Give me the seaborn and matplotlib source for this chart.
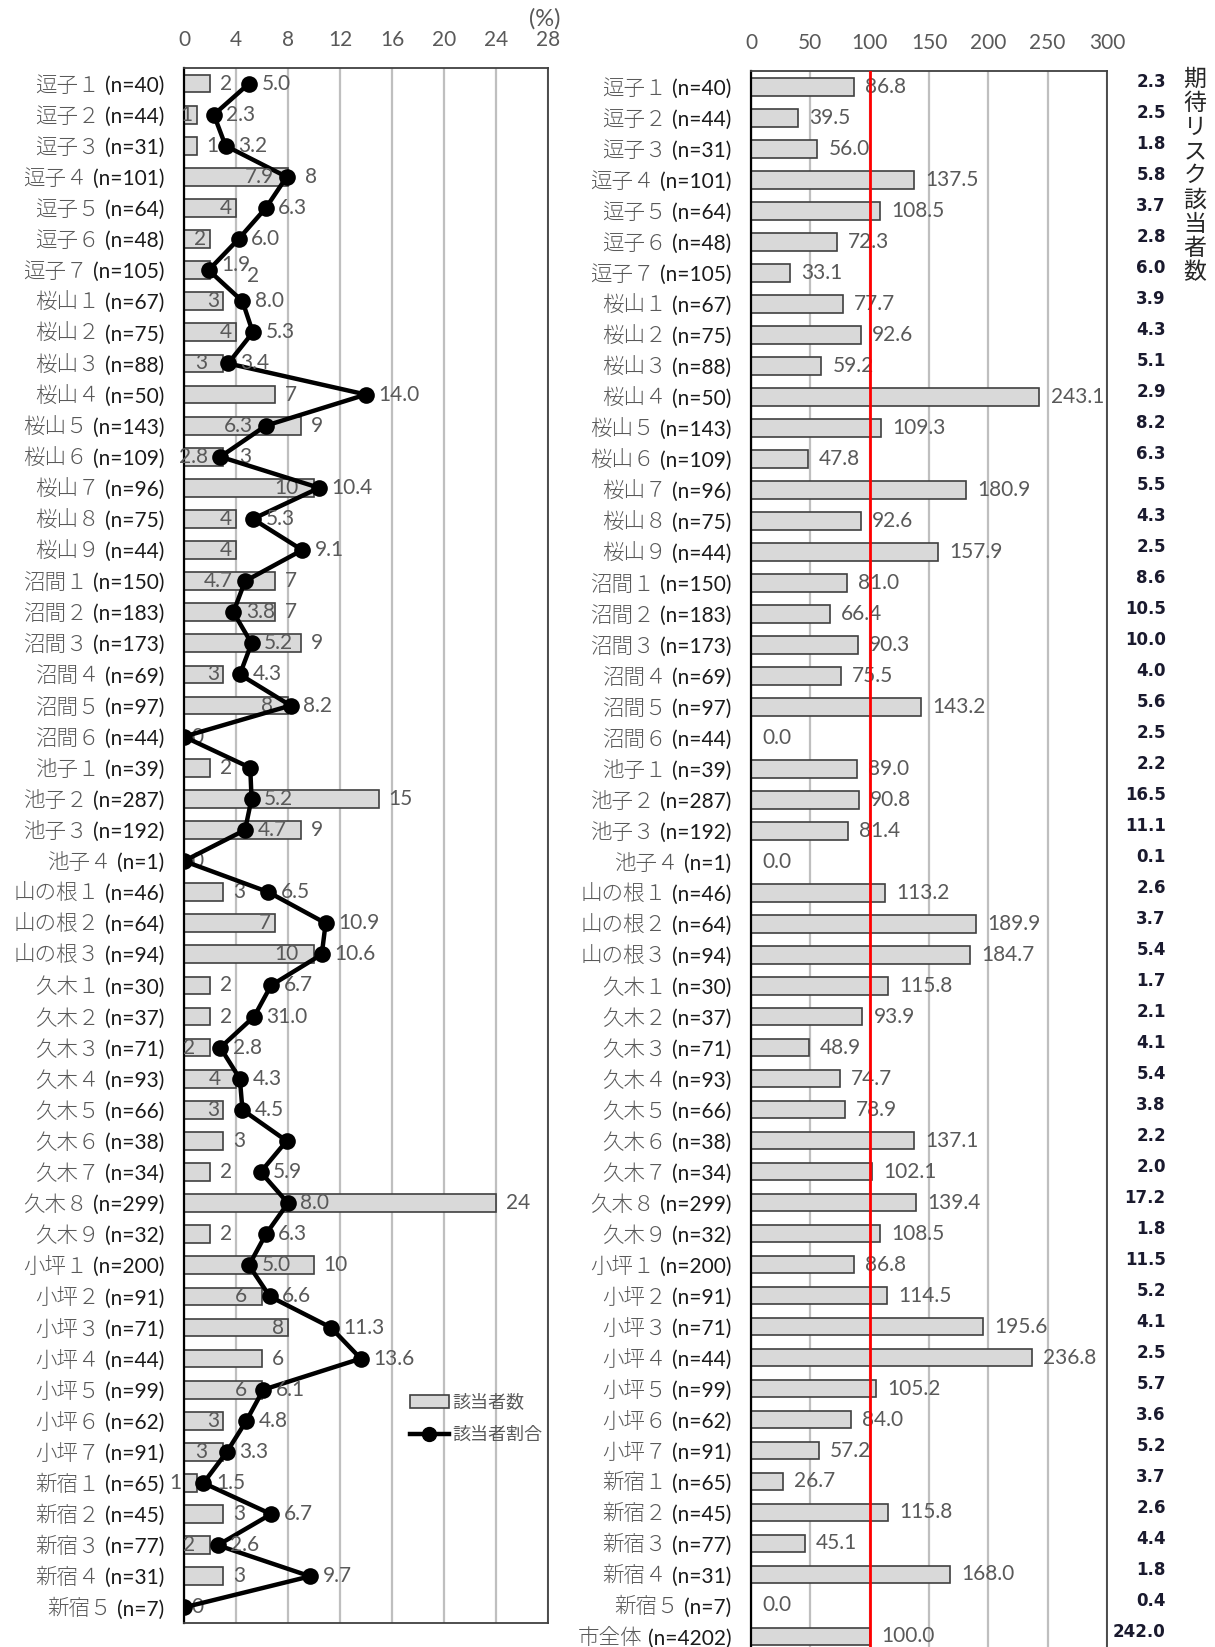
import matplotlib
matplotlib.use('Agg')
import matplotlib.pyplot as plt
import seaborn as sns
import pandas as pd
from matplotlib.patches import Patch
from matplotlib.lines import Line2D
from matplotlib.transforms import blended_transform_factory

# ---------------- data ----------------
names = ["逗子１", "逗子２", "逗子３", "逗子４", "逗子５", "逗子６", "逗子７",
         "桜山１", "桜山２", "桜山３", "桜山４", "桜山５", "桜山６", "桜山７", "桜山８", "桜山９",
         "沼間１", "沼間２", "沼間３", "沼間４", "沼間５", "沼間６",
         "池子１", "池子２", "池子３", "池子４",
         "山の根１", "山の根２", "山の根３",
         "久木１", "久木２", "久木３", "久木４", "久木５", "久木６", "久木７", "久木８", "久木９",
         "小坪１", "小坪２", "小坪３", "小坪４", "小坪５", "小坪６", "小坪７",
         "新宿１", "新宿２", "新宿３", "新宿４", "新宿５"]
sample_n = [40, 44, 31, 101, 64, 48, 105,
            67, 75, 88, 50, 143, 109, 96, 75, 44,
            150, 183, 173, 69, 97, 44,
            39, 287, 192, 1,
            46, 64, 94,
            30, 37, 71, 93, 66, 38, 34, 299, 32,
            200, 91, 71, 44, 99, 62, 91,
            65, 45, 77, 31, 7]
counts = [2, 1, 1, 8, 4, 2, 2,
          3, 4, 3, 7, 9, 3, 10, 4, 4,
          7, 7, 9, 3, 8, 0,
          2, 15, 9, 0,
          3, 7, 10,
          2, 2, 2, 4, 3, 3, 2, 24, 2,
          10, 6, 8, 6, 6, 3, 3,
          1, 3, 2, 3, 0]
rates = [5.0, 2.3, 3.2, 7.9, 6.3, 4.2, 1.9,
         4.5, 5.3, 3.4, 14.0, 6.3, 2.8, 10.4, 5.3, 9.1,
         4.7, 3.8, 5.2, 4.3, 8.2, 0.0,
         5.1, 5.2, 4.7, 0.0,
         6.5, 10.9, 10.6,
         6.7, 5.4, 2.8, 4.3, 4.5, 7.9, 5.9, 8.0, 6.3,
         5.0, 6.6, 11.3, 13.6, 6.1, 4.8, 3.3,
         1.5, 6.7, 2.6, 9.7, 0.0]
rate_labels = ["5.0", "2.3", "3.2", "7.9", "6.3", "6.0", "1.9",
               "8.0", "5.3", "3.4", "14.0", "6.3", "2.8", "10.4", "5.3", "9.1",
               "4.7", "3.8", "5.2", "4.3", "8.2", "",
               "", "5.2", "4.7", "",
               "6.5", "10.9", "10.6",
               "6.7", "31.0", "2.8", "4.3", "4.5", "", "5.9", "8.0", "6.3",
               "5.0", "6.6", "11.3", "13.6", "6.1", "4.8", "3.3",
               "1.5", "6.7", "2.6", "9.7", ""]

total_name = "市全体"
total_n = 4202
ratios = [86.8, 39.5, 56.0, 137.5, 108.5, 72.3, 33.1,
          77.7, 92.6, 59.2, 243.1, 109.3, 47.8, 180.9, 92.6, 157.9,
          81.0, 66.4, 90.3, 75.5, 143.2, 0.0,
          89.0, 90.8, 81.4, 0.0,
          113.2, 189.9, 184.7,
          115.8, 93.9, 48.9, 74.7, 78.9, 137.1, 102.1, 139.4, 108.5,
          86.8, 114.5, 195.6, 236.8, 105.2, 84.0, 57.2,
          26.7, 115.8, 45.1, 168.0, 0.0,
          100.0]
expected = [2.3, 2.5, 1.8, 5.8, 3.7, 2.8, 6.0,
            3.9, 4.3, 5.1, 2.9, 8.2, 6.3, 5.5, 4.3, 2.5,
            8.6, 10.5, 10.0, 4.0, 5.6, 2.5,
            2.2, 16.5, 11.1, 0.1,
            2.6, 3.7, 5.4,
            1.7, 2.1, 4.1, 5.4, 3.8, 2.2, 2.0, 17.2, 1.8,
            11.5, 5.2, 4.1, 2.5, 5.7, 3.6, 5.2,
            3.7, 2.6, 4.4, 1.8, 0.4,
            242.0]
x_ticks_left = [0, 4, 8, 12, 16, 20, 24, 28]
x_ticks_right = [0, 50, 100, 150, 200, 250, 300]
legend_labels = ["該当者数", "該当者割合"]
side_title = "期待リスク該当者数"

# ---------------- style ----------------
plt.rcParams['font.family'] = ['Lato', 'Noto Sans CJK JP', 'DejaVu Sans']
CJK = ['Noto Sans CJK JP', 'DejaVu Sans']
BAR_FACE = '#d9d9d9'
BAR_EDGE = '#404040'
LABEL_GRAY = '#595959'
GRID = '#bfbfbf'
DL_SIZE = 15

fig = plt.figure(figsize=(12.15, 16.47), dpi=100)
axL = fig.add_axes([0.1514, 0.0146, 0.2996, 0.9441])
axR = fig.add_axes([0.6181, -0.0030, 0.2930, 0.9596])

dfL = pd.DataFrame({
    'key': [f"{a} (n={n})" for a, n in zip(names, sample_n)],
    'count': counts,
    'rate': rates,
    'pos': list(range(len(names))),
})
names_R = names + [total_name]
n_R = sample_n + [total_n]
dfR = pd.DataFrame({
    'key': [f"{a} (n={n})" for a, n in zip(names_R, n_R)],
    'ratio': ratios,
})


def style_axes(ax, ticks, xmax, nrows, n_list, name_list):
    ax.set_xlim(0, xmax)
    ax.set_ylim(nrows - 0.5, -0.5)
    ax.set_xticks(ticks)
    ax.xaxis.tick_top()
    ax.tick_params(axis='x', length=0, pad=13, labelsize=15, labelcolor=LABEL_GRAY)
    ax.tick_params(axis='y', length=0, pad=14, labelsize=15, labelcolor='#1a1a1a')
    ax.set_yticks(range(nrows))
    ax.set_yticklabels([f"(n={n})" for n in n_list])
    ax.set_xlabel('')
    ax.set_ylabel('')
    ax.grid(axis='x', color=GRID, linewidth=1.6)
    ax.grid(axis='y', visible=False)
    ax.set_axisbelow(True)
    for s in ['top', 'right', 'bottom']:
        ax.spines[s].set_color('#404040')
        ax.spines[s].set_linewidth(1.3)
        ax.spines[s].set_visible(True)
    ax.spines['left'].set_color('#000000')
    ax.spines['left'].set_linewidth(1.6)
    ax.spines['left'].set_visible(True)
    ax.set_facecolor('white')
    for lab, nm in zip(ax.get_yticklabels(), name_list):
        ax.annotate(nm, xy=(0, 0.5), xycoords=lab, xytext=(-4, 0),
                    textcoords='offset points', ha='right', va='center',
                    fontsize=15.5, color=LABEL_GRAY, family=CJK, fontweight='light')


# ---------------- left panel ----------------
sns.barplot(data=dfL, x='count', y='key', orient='h', color=BAR_FACE, saturation=1,
            edgecolor=BAR_EDGE, linewidth=1.2, width=0.57, ax=axL)
sns.lineplot(data=dfL, x='rate', y='pos', orient='y', sort=False, estimator=None,
             color='black', linewidth=3.2, marker='o', markersize=12,
             markeredgewidth=0, legend=False, ax=axL, zorder=4)
style_axes(axL, x_ticks_left, 28, len(names), sample_n, names)


def note(ax, text, x, y, dx, ha, z=3, dy=0):
    ax.annotate(text, xy=(x, y), xytext=(dx, dy), textcoords='offset points',
                ha=ha, va='center', fontsize=DL_SIZE, color=LABEL_GRAY, zorder=z)


for i, (c, r, pl) in enumerate(zip(counts, rates, rate_labels)):
    diff = r - c
    pct_mode = 'right'
    if c == 0:
        note(axL, "0", 0, i, 5, 'left')
    elif -0.3 <= diff < 0 and r >= 2.5:
        # point sits on the bar end: count goes outside past the marker, rate inside
        note(axL, str(c), c, i, 12, 'left')
        pct_mode = 'left'
    elif -0.3 <= diff < 0:
        # no room inside a short bar: stagger both labels to the right
        note(axL, str(c), c, i, 27, 'left', dy=-4)
        pct_mode = 'up'
    else:
        if c >= 4:
            inside = -0.5 <= diff <= 5.5
        elif c >= 2:
            inside = -0.5 <= diff <= 2.3
        else:
            inside = -0.5 <= diff <= 1.5
        if inside:
            if abs(diff) < 1.0:
                note(axL, str(c), min(c, r), i, -11, 'right')
            else:
                note(axL, str(c), c, i, -3, 'right')
        else:
            note(axL, str(c), c, i, 7, 'left')
            if -3.0 < diff < -0.5:
                # rate label would run into the bar end: put it left of the point
                pct_mode = 'left'
    if pl:
        if pct_mode == 'left':
            note(axL, pl, r, i, -9, 'right', z=5)
        elif pct_mode == 'up':
            note(axL, pl, r, i, 9, 'left', z=5, dy=4)
        else:
            note(axL, pl, r, i, 9, 'left', z=5)

handles = [Patch(facecolor=BAR_FACE, edgecolor=BAR_EDGE, linewidth=1.2),
           Line2D([], [], color='black', linewidth=3.2, marker='o', markersize=10)]
leg = axL.legend(handles, legend_labels, loc='upper left', bbox_to_anchor=(0.575, 0.158),
                 frameon=False, prop={'family': CJK, 'size': 13}, labelcolor=LABEL_GRAY,
                 handlelength=2.2, handletextpad=0.15, labelspacing=0.8)

fig.text(0.4486, 0.9885, "(%)", ha='center', va='center', fontsize=17, color=LABEL_GRAY)

# ---------------- right panel ----------------
sns.barplot(data=dfR, x='ratio', y='key', orient='h', color=BAR_FACE, saturation=1,
            edgecolor=BAR_EDGE, linewidth=1.2, width=0.57, ax=axR)
style_axes(axR, x_ticks_right, 300, len(names_R), n_R, names_R)
axR.bar_label(axR.containers[0], labels=[f"{v:.1f}" for v in ratios], padding=8,
              fontsize=DL_SIZE, color=LABEL_GRAY)
axR.axvline(100, color='#ff0000', linewidth=2, zorder=6)

trans = blended_transform_factory(fig.transFigure, axR.transData)
for i, v in enumerate(expected):
    axR.text(0.9595, i - 0.15, f"{v:.1f}", transform=trans, ha='right', va='center',
             fontsize=12, fontweight='bold', family='DejaVu Sans', color='#1a1a2e',
             clip_on=False)

fig.text(0.9835, 0.9587, "\n".join(side_title), ha='center', va='top', fontsize=16.5,
         color='#262626', family=CJK, linespacing=1.06)

fig.savefig('out.png', dpi=100)
